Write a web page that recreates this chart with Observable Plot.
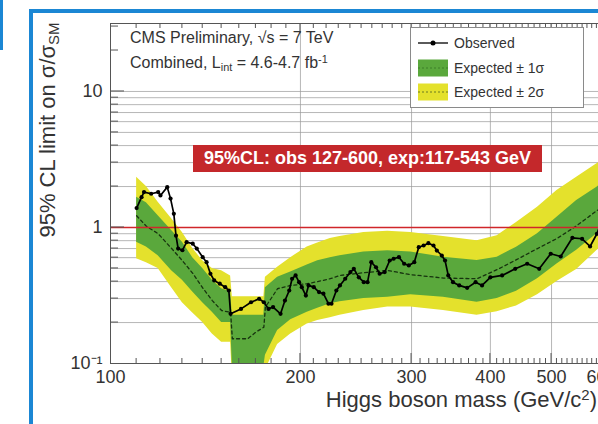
<!DOCTYPE html>
<html><head><meta charset="utf-8">
<script src="https://cdn.jsdelivr.net/npm/d3@7"></script>
<script src="https://cdn.jsdelivr.net/npm/@observablehq/plot@0.6"></script>
<style>
html,body{margin:0;padding:0;background:#fff;}
#wrap{position:relative;width:598px;height:424px;overflow:hidden;font-family:"Liberation Sans",Arial,Helvetica,sans-serif;color:#333;background:#fff;}
#chart{position:absolute;left:0;top:0;width:620px;height:424px;}
#chart svg{max-width:none !important;}
.abs{position:absolute;white-space:nowrap;}
.sub{font-size:0.68em;position:relative;top:0.3em;}
.sup{font-size:0.68em;position:relative;top:-0.45em;}
</style></head>
<body>
<div id="wrap">
  <div id="chart"></div>
  <div class="abs" style="left:0;top:0;width:3px;height:50px;background:#1b87d4"></div>
  <div class="abs" style="left:29px;top:9px;width:4px;height:415px;background:#1b87d4"></div>
  <div class="abs" style="left:29px;top:9px;width:569px;height:4px;background:#1b87d4"></div>
  <div class="abs" style="left:130px;top:28px;font-size:16px;line-height:19px;">CMS Preliminary, √s = 7 TeV</div>
  <div class="abs" style="left:130px;top:53px;font-size:16px;line-height:19px;">Combined, L<span class="sub">int</span> = 4.6-4.7 fb<span class="sup">-1</span></div>
  <div class="abs" style="left:193px;top:145px;width:349px;height:27px;background:#c4282b;color:#fff;font-weight:bold;font-size:18px;line-height:27px;text-align:center;">95%CL: obs 127-600, exp:117-543 GeV</div>
  <div id="legend" class="abs" style="left:410px;top:27px;width:172px;height:79px;border:1px solid #8a8a8a;background:#fff;"></div>
  <div class="abs" style="right:1px;top:387px;font-size:22px;line-height:26px;">Higgs boson mass (GeV/c<span class="sup">2</span>)</div>
  <div class="abs" style="left:49px;top:130px;font-size:22px;line-height:26px;transform:translate(-50%,-50%) rotate(-90deg);">95% CL limit on σ/σ<span class="sub">SM</span></div>
</div>
<script>
// ---- data ----
const bandMass  = [110,114,119,125,130,135,140,145,150,155,156,165,170,175,176,184,193,205,213,223,231,252,275,299,337,381,410,440,475,510,548,590,600];
const band2Hi   = [2.34,2.0,1.53,1.16,0.92,0.70,0.57,0.50,0.48,0.44,0.31,0.31,0.31,0.31,0.43,0.51,0.60,0.72,0.77,0.83,0.86,0.92,0.94,0.92,0.86,0.80,0.87,1.09,1.41,1.87,2.34,2.94,3.1];
const band1Hi   = [1.67,1.52,1.22,0.95,0.78,0.60,0.50,0.41,0.355,0.335,0.226,0.226,0.226,0.226,0.36,0.43,0.47,0.53,0.57,0.60,0.62,0.66,0.675,0.66,0.605,0.572,0.605,0.716,0.90,1.19,1.58,1.98,2.1];
const expMedian = [1.22,1.02,0.90,0.70,0.57,0.46,0.36,0.29,0.245,0.238,0.152,0.152,0.17,0.185,0.26,0.355,0.375,0.386,0.40,0.42,0.444,0.465,0.483,0.45,0.425,0.42,0.49,0.58,0.70,0.83,1.03,1.33,1.4];
const band1Lo   = [0.78,0.72,0.62,0.48,0.41,0.335,0.28,0.238,0.20,0.20,0.095,0.095,0.095,0.095,0.115,0.175,0.21,0.238,0.255,0.275,0.285,0.30,0.307,0.32,0.307,0.282,0.30,0.34,0.42,0.54,0.68,0.90,0.95];
const band2Lo   = [0.59,0.55,0.50,0.36,0.28,0.235,0.20,0.165,0.143,0.143,0.08,0.08,0.08,0.08,0.09,0.138,0.165,0.195,0.207,0.217,0.226,0.245,0.26,0.26,0.245,0.226,0.24,0.265,0.32,0.40,0.49,0.677,0.72];

const obsMass  = [110,112,113,116,119,120,123,124.5,126,127,128,130,132,135,137,140,142,144,146,149,152,154,155,161,167,172,175,178,181,186,189,192,194,196.5,199,201,204,206,210,214,217.5,221.5,224,228,231,235.5,240,243,247.5,252,255.5,259,263.5,267,272,277,281,286.5,292,297,303,308,313.5,319,325,329,335,339,343,349,357,367.5,379,388,400,417.5,438,457.5,478,498.5,517,539.5,559,575.5,590,600];
const obsLimit = [1.39,1.67,1.82,1.77,1.82,1.72,1.98,1.63,1.26,0.87,0.70,0.68,0.78,0.76,0.70,0.605,0.556,0.457,0.408,0.386,0.364,0.344,0.232,0.252,0.282,0.299,0.282,0.252,0.26,0.232,0.29,0.344,0.42,0.444,0.396,0.364,0.316,0.375,0.364,0.335,0.326,0.275,0.275,0.344,0.375,0.42,0.47,0.497,0.43,0.396,0.396,0.556,0.51,0.457,0.47,0.572,0.589,0.605,0.541,0.526,0.556,0.716,0.737,0.767,0.737,0.677,0.622,0.572,0.444,0.396,0.375,0.36,0.396,0.375,0.43,0.444,0.497,0.541,0.497,0.641,0.612,0.84,0.826,0.725,0.899,1.1];

const xMajor = [100,200,300,400,500,600];
const xGrid = [200,300,400,500];
const yMajor = [0.1,1,10];
const yTickLabels = ["10⁻¹","1","10"];
const yGrid = [0.2,0.3,0.4,0.5,0.6,0.7,0.8,0.9,2,3,4,5,6,7,8,9,10];
const legendLabels = ["Observed","Expected ± 1σ","Expected ± 2σ"];

const YELLOW = "#e4e12c", GREEN = "#5aa83c";

const bands = bandMass.map((m,i)=>({m, hi2:band2Hi[i], hi1:band1Hi[i], med:expMedian[i], lo1:band1Lo[i], lo2:band2Lo[i]}));
const obs = obsMass.map((m,i)=>({m, v:obsLimit[i]}));

const chart = Plot.plot({
  width: 620, height: 424,
  marginLeft: 110, marginRight: 19, marginTop: 23, marginBottom: 61,
  x: {type:"log", domain:[100,600]},
  y: {type:"log", domain:[0.1,31.6]},
  style: {fontFamily:"Liberation Sans, Arial, sans-serif", color:"#333", background:"transparent", maxWidth:"none"},
  marks: [
    Plot.ruleY(yGrid, {stroke:"#9a9a9a", strokeWidth:0.9, strokeOpacity:0.8}),
    Plot.ruleX(xGrid, {stroke:"#9a9a9a", strokeWidth:0.9, strokeOpacity:0.8}),
    Plot.areaY(bands, {x:"m", y1:"lo2", y2:"hi2", fill:YELLOW, clip:true}),
    Plot.areaY(bands, {x:"m", y1:"lo1", y2:"hi1", fill:GREEN, clip:true}),
    Plot.line(bands, {x:"m", y:"med", stroke:"#17330f", strokeWidth:1.3, strokeDasharray:"3,3", clip:true}),
    Plot.ruleY([1], {stroke:"#d0262a", strokeWidth:1.6}),
    Plot.line(obs, {x:"m", y:"v", stroke:"#000", strokeWidth:1.7, clip:true}),
    Plot.dot(obs, {x:"m", y:"v", r:2.1, fill:"#000", clip:true}),
    Plot.frame({stroke:"#555", strokeWidth:1}),
    Plot.axisX(xMajor, {tickSize:0, tickPadding:7, fontSize:18, label:null, tickFormat:d=>String(d)}),
    Plot.axisY(yMajor, {tickSize:0, tickPadding:8, fontSize:18, label:null, tickFormat:d=>yTickLabels[yMajor.indexOf(d)]})
  ]
});
chart.style.maxWidth = "none";
chart.style.width = "620px";
chart.style.height = "424px";
document.getElementById("chart").appendChild(chart);

// tick marks drawn inward using the plot's own scales
const svg = d3.select(chart.tagName.toLowerCase()==="svg" ? chart : chart.querySelector("svg"));
const sx = chart.scale("x"), sy = chart.scale("y");
const x0 = sx.apply(100), yb = sy.apply(0.1), yt = sy.apply(31.6);
const g = svg.append("g").attr("stroke","#555").attr("stroke-width",1);
const xTicks = d3.range(110,600,10);
xTicks.forEach(v=>{
  const major = xMajor.includes(v);
  const L = major ? 10 : 5;
  const x = sx.apply(v);
  g.append("line").attr("x1",x).attr("x2",x).attr("y1",yb).attr("y2",yb-L);
  g.append("line").attr("x1",x).attr("x2",x).attr("y1",yt).attr("y2",yt+L);
});
const yTicks = [0.2,0.3,0.4,0.5,0.6,0.7,0.8,0.9,1,2,3,4,5,6,7,8,9,10,20,30];
yTicks.forEach(v=>{
  const major = yMajor.includes(v);
  const L = major ? 14 : 8;
  const y = sy.apply(v);
  g.append("line").attr("x1",x0).attr("x2",x0+L).attr("y1",y).attr("y2",y);
});

// legend
const leg = d3.select("#legend");
const rows = [15,40,64];
legendLabels.forEach((t,i)=>{
  const s = leg.append("svg").attr("width",40).attr("height",20)
    .style("position","absolute").style("left","5px").style("top",(rows[i]-10)+"px");
  if(i===0){
    s.append("line").attr("x1",2).attr("x2",32).attr("y1",10).attr("y2",10).attr("stroke","#000").attr("stroke-width",1.3);
    s.append("circle").attr("cx",17).attr("cy",10).attr("r",2.5).attr("fill","#000");
  } else {
    s.append("rect").attr("x",2).attr("y",1.5).attr("width",30).attr("height",17).attr("fill", i===1?GREEN:YELLOW);
    s.append("line").attr("x1",2).attr("x2",32).attr("y1",10).attr("y2",10).attr("stroke", i===1?"#3d7f28":"#6b7a20").attr("stroke-width",1).attr("stroke-dasharray","2,2");
  }
  leg.append("div").text(t).style("position","absolute").style("left","43px")
    .style("top",(rows[i]-9)+"px").style("font-size","14px").style("line-height","18px").style("white-space","nowrap");
});
</script>
</body></html>
